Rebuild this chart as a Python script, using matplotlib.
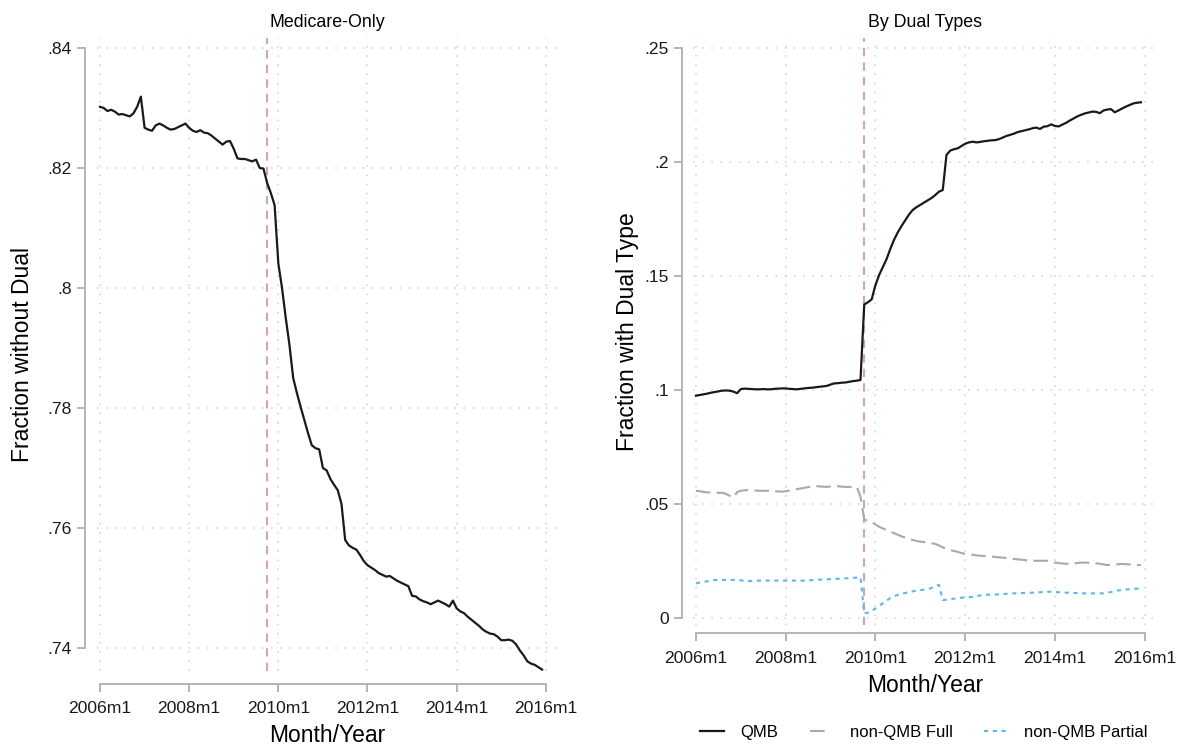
import matplotlib.pyplot as plt
from matplotlib.lines import Line2D
import numpy as np

plt.rcParams['font.family'] = ['Liberation Sans', 'DejaVu Sans']

# monthly series, 2006m1 .. 2015m12
medicare_only = [
    .8302, .8300, .8295, .8297, .8294, .8289, .8290, .8288, .8286, .8291, .8302, .8319,
    .8267, .8264, .8262, .8271, .8274, .8271, .8267, .8264, .8265, .8268, .8271, .8274,
    .8267, .8262, .8260, .8263, .8259, .8258, .8254, .8249, .8244, .8239, .8244, .8245,
    .8232, .8216, .8215, .8215, .8213, .8211, .8214, .8200, .8199, .8175, .8158, .8138,
    .8041, .8000, .7950, .7905, .7850, .7825, .7802, .7780, .7758, .7738, .7733, .7731,
    .7700, .7696, .7682, .7672, .7663, .7640, .7580, .7571, .7567, .7564, .7555, .7545,
    .7538, .7534, .7530, .7525, .7522, .7519, .7520, .7516, .7512, .7509, .7506, .7503,
    .7487, .7486, .7481, .7478, .7476, .7473, .7476, .7479, .7476, .7473, .7469, .7479,
    .7466, .7461, .7458, .7452, .7447, .7442, .7437, .7431, .7427, .7424, .7423, .7419,
    .7413, .7413, .7414, .7412, .7406, .7396, .7388, .7378, .7374, .7372, .7368, .7364,
]

qmb = [
    .0975, .0978, .0981, .0984, .0988, .0991, .0994, .0997, .0998, .0997, .0993, .0986,
    .1004, .1006, .1005, .1004, .1003, .1003, .1004, .1003, .1003, .1005, .1006, .1007,
    .1007, .1005, .1004, .1003, .1005, .1007, .1009, .1010, .1012, .1014, .1016, .1018,
    .1024, .1029, .1030, .1032, .1033, .1036, .1039, .1041, .1044, .1375, .1385, .1398,
    .1460, .1505, .1540, .1575, .1620, .1660, .1692, .1720, .1745, .1770, .1790, .1802,
    .1812, .1822, .1832, .1842, .1855, .1870, .1877, .2031, .2050, .2056, .2060, .2070,
    .2080, .2086, .2089, .2086, .2088, .2091, .2093, .2095, .2096, .2100, .2107, .2114,
    .2119, .2124, .2131, .2135, .2139, .2143, .2148, .2151, .2145, .2155, .2157, .2165,
    .2158, .2156, .2164, .2172, .2182, .2191, .2200, .2207, .2213, .2217, .2221, .2220,
    .2214, .2226, .2230, .2232, .2218, .2226, .2235, .2243, .2250, .2257, .2260, .2262,
]

non_qmb_full = [
    .0558, .0556, .0553, .0551, .0550, .0550, .0549, .0549, .0545, .0536, .0529, .0552,
    .0558, .0560, .0561, .0560, .0559, .0558, .0558, .0558, .0557, .0556, .0555, .0554,
    .0556, .0559, .0562, .0565, .0568, .0571, .0574, .0577, .0579, .0577, .0576, .0575,
    .0577, .0579, .0578, .0576, .0575, .0575, .0575, .0575, .0532, .0433, .0425, .0420,
    .0410, .0400, .0393, .0385, .0378, .0372, .0365, .0358, .0352, .0347, .0342, .0338,
    .0335, .0333, .0330, .0328, .0325, .0318, .0310, .0302, .0298, .0294, .0290, .0285,
    .0281, .0279, .0277, .0275, .0273, .0272, .0270, .0269, .0268, .0266, .0265, .0263,
    .0261, .0259, .0257, .0256, .0254, .0252, .0251, .0251, .0251, .0251, .0251, .0247,
    .0243, .0241, .0239, .0238, .0237, .0239, .0241, .0243, .0243, .0242, .0241, .0240,
    .0238, .0235, .0232, .0233, .0234, .0236, .0237, .0236, .0235, .0234, .0233, .0232,
]

non_qmb_partial = [
    .0152, .0155, .0158, .0161, .0164, .0167, .0167, .0167, .0167, .0167, .0167, .0166,
    .0165, .0163, .0162, .0163, .0164, .0164, .0164, .0164, .0164, .0164, .0164, .0164,
    .0164, .0164, .0164, .0164, .0164, .0164, .0165, .0166, .0167, .0168, .0169, .0170,
    .0170, .0171, .0172, .0173, .0174, .0175, .0176, .0177, .0178, .0022, .0023, .0030,
    .0042, .0053, .0065, .0076, .0088, .0096, .0101, .0106, .0110, .0114, .0117, .0120,
    .0122, .0124, .0126, .0132, .0140, .0145, .0079, .0080, .0082, .0085, .0087, .0089,
    .0090, .0091, .0093, .0096, .0099, .0101, .0102, .0103, .0103, .0104, .0105, .0106,
    .0107, .0108, .0108, .0109, .0110, .0110, .0111, .0112, .0113, .0114, .0115, .0115,
    .0114, .0113, .0112, .0111, .0111, .0110, .0109, .0108, .0108, .0108, .0108, .0108,
    .0108, .0108, .0111, .0114, .0118, .0121, .0123, .0125, .0126, .0128, .0129, .0130,
]

x_ticks = [0, 24, 48, 72, 96, 120]
x_labels = ['2006m1', '2008m1', '2010m1', '2012m1', '2014m1', '2016m1']
policy_month = 45  # 2009m10

left_ticks = [.74, .76, .78, .80, .82, .84]
left_labels = ['.74', '.76', '.78', '.8', '.82', '.84']
right_ticks = [0, .05, .10, .15, .20, .25]
right_labels = ['0', '.05', '.1', '.15', '.2', '.25']

spine_col = '#b4b4b4'
grid_col = '#cfcfcf'
pink = '#d89fbe'


def style_axis(ax, yticks, ylabels, ybounds, x_off, y_off):
    ax.set_xticks(x_ticks)
    ax.set_xticklabels(x_labels)
    ax.set_yticks(yticks)
    ax.set_yticklabels(ylabels)
    for s in ['top', 'right']:
        ax.spines[s].set_visible(False)
    ax.spines['left'].set_position(('outward', y_off))
    ax.spines['bottom'].set_position(('outward', x_off))
    ax.spines['left'].set_bounds(*ybounds)
    ax.spines['bottom'].set_bounds(0, 120)
    for s in ['left', 'bottom']:
        ax.spines[s].set_color(spine_col)
        ax.spines[s].set_linewidth(1.4)
    ax.tick_params(axis='both', color=spine_col, width=1.4, length=5.5, labelsize=12.6, colors='#1a1a1a')
    ax.tick_params(axis='x', pad=7)
    ax.tick_params(axis='y', pad=4)
    ax.grid(True, color=grid_col, linestyle=(0, (1, 5)), linewidth=1.1)
    ax.set_axisbelow(True)
    ax.axvline(policy_month, color=pink, linestyle=(0, (4, 3)), linewidth=1.5, zorder=1)


fig = plt.figure(figsize=(11.95, 7.47), dpi=100)

# left panel
ax1 = fig.add_axes([0.0812, 1 - 671 / 747, 0.3858, (671 - 38) / 747])
months = np.arange(len(medicare_only))
ax1.plot(months, medicare_only, color='#1a1a1a', linewidth=1.6, zorder=3)
ax1.set_xlim(-0.8, 123.3)
ax1.set_ylim(0.84 - (671 - 48) / 6000, 0.84 + 10 / 6000)
style_axis(ax1, left_ticks, left_labels, (0.74, 0.84), 9, 8.5)
ax1.set_title('Medicare-Only', fontsize=12.8, pad=8)
ax1.set_xlabel('Month/Year', fontsize=16.5, labelpad=6)
ax1.set_ylabel('Fraction without Dual', fontsize=16.5, labelpad=10)

# right panel
ax2 = fig.add_axes([0.5799, 1 - 625 / 747, 0.3883, (625 - 38) / 747])
months = np.arange(len(qmb))
ax2.plot(months, qmb, color='#1a1a1a', linewidth=1.6, zorder=3)
ax2.plot(months, non_qmb_full, color='#a9a9a9', linewidth=1.5,
         linestyle=(0, (7, 3)), zorder=3)
ax2.plot(months, non_qmb_partial, color='#5cb8ea', linewidth=1.5,
         linestyle=(0, (2, 2.2)), zorder=3)
ax2.set_xlim(-0.8, 123.3)
ax2.set_ylim(-7 / 2280, 0.25 + 10 / 2280)
style_axis(ax2, right_ticks, right_labels, (0, 0.25), 6, 8)
ax2.set_title('By Dual Types', fontsize=12.8, pad=8)
ax2.set_xlabel('Month/Year', fontsize=16.5, labelpad=6)
ax2.set_ylabel('Fraction with Dual Type', fontsize=16.5, labelpad=4)

# legend samples (Stata draws the dashed one as a single dash)
handles = [
    Line2D([], [], color='#1a1a1a', linewidth=1.6),
    Line2D([], [], color='#a9a9a9', linewidth=1.5, linestyle=(0, (7, 10))),
    Line2D([], [], color='#5cb8ea', linewidth=1.5, linestyle=(0, (2, 2.2))),
]
fig.legend(handles, ['QMB', 'non-QMB Full', 'non-QMB Partial'],
           loc='center', bbox_to_anchor=(924 / 1195, 1 - 732 / 747), ncol=3,
           frameon=False, fontsize=12, handlelength=1.45, handletextpad=0.95,
           columnspacing=1.9)

fig.savefig('out.png', dpi=100)
